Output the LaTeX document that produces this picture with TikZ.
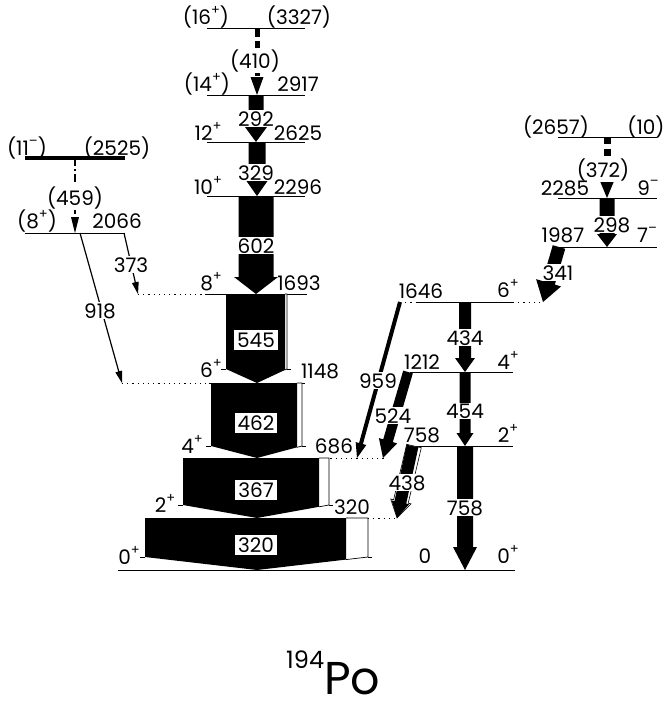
\documentclass[tikz,border=0pt]{standalone}
\usepackage{fontspec}
\setmainfont{Poppins}
\usetikzlibrary{calc}
\newcommand\lvsup[1]{\raisebox{0.48em}{\fontsize{13}{13}\selectfont #1}}
% filled gamma arrow: [style]{start}{end}{body width}{head width}{head length}
\newcommand\gamfill[6][fill=black]{%
  \coordinate (gH) at ($(#3)!#6!(#2)$);
  \path[#1] ($(#2)!#4*0.5!90:(#3)$) -- ($(gH)!#4*0.5!-90:(#2)$) -- ($(gH)!#5*0.5!-90:(#2)$) -- (#3) -- ($(gH)!#5*0.5!90:(#2)$) -- ($(gH)!#4*0.5!90:(#2)$) -- ($(#2)!#4*0.5!-90:(#3)$) -- cycle;}
% dashed gamma arrow: {dash style}{start}{end}{body width}{head width}{head length}
\newcommand\gamdash[6]{%
  \coordinate (gH) at ($(#3)!#6!(#2)$);
  \draw[#1, line width=#4] (#2) -- (gH);
  \fill ($(gH)!#5*0.5!-90:(#2)$) -- (#3) -- ($(gH)!#5*0.5!90:(#2)$) -- cycle;}
% big block: {xL}{xB}{xR}{ytop}{ycorner}{ytip}
\newcommand\blk[6]{%
  \pgfmathsetmacro\yB{#5+(#3-#2)/(#3-257)*(#6-#5)}
  \draw[line width=0.7pt, fill=white] (#2,#4) -- (#3,#4) -- (#3,#5) -- (#2,\yB);
  \fill (#1,#4) -- (#2,#4) -- (#2,\yB) -- (257,#6) -- (#1,#5) -- cycle;
  \draw[line width=0.7pt] (#1-5,#5) -- (#1,#5) (#3,#5) -- (#3+4,#5);}
\begin{document}
\begin{tikzpicture}[x=1pt,y=-1pt,
  lab/.style={font=\fontsize{20}{20}\selectfont, anchor=base, inner sep=1pt},
  glab/.style={lab, fill=white},
  blab/.style={lab, fill=white, inner xsep=3pt, inner ysep=2.5pt},
  lvl/.style={line width=0.9pt},
  dotl/.style={line width=1pt, dash pattern=on 1.2pt off 4pt}]
\useasboundingbox (0,0) rectangle (669,702);
% ---------- levels ----------
\draw[lvl] (207,28) -- (305,28);
\draw[lvl] (207,95) -- (305,95);
\draw[lvl] (207,142) -- (305,142);
\draw[lvl] (207,196) -- (305,196);
\draw[dotl] (138,294) -- (205,294); \draw[lvl] (205,294) -- (307,294);
\draw[dotl] (122,383) -- (209,383); \draw[lvl] (209,383) -- (305,383);
\draw[lvl] (183,458) -- (320,458); \draw[dotl] (320,458) -- (384,458);
\draw[lvl] (145,518) -- (368,518); \draw[dotl] (368,518) -- (397,518);
\draw[lvl] (118,570) -- (515,570);
\draw[line width=3.5pt] (25,158) -- (125,158);
\draw[lvl] (25,233) -- (125,233);
\draw[lvl] (558,137) -- (657,137);
\draw[lvl] (558,198) -- (657,198);
\draw[lvl] (560,247) -- (657,247);
\draw[dotl] (400,302) -- (417,302); \draw[lvl] (417,302) -- (513,302); \draw[dotl] (513,302) -- (543,302);
\draw[lvl] (410,372) -- (513,372);
\draw[lvl] (410,446) -- (513,446);
% ---------- coordinates of transitions ----------
\coordinate (g410a) at (257,28);  \coordinate (g410b) at (257,95);
\coordinate (g292a) at (256,95);  \coordinate (g292b) at (256,142);
\coordinate (g329a) at (257,142); \coordinate (g329b) at (257,196);
\coordinate (g602a) at (256,196); \coordinate (g602b) at (256,294);
\coordinate (g372a) at (607,137); \coordinate (g372b) at (607,198);
\coordinate (g298a) at (607,198); \coordinate (g298b) at (607,247);
\coordinate (g341a) at (559,247); \coordinate (g341b) at (543,302);
\coordinate (g434a) at (465,302); \coordinate (g434b) at (465,372);
\coordinate (g454a) at (465,372); \coordinate (g454b) at (465,446);
\coordinate (g758a) at (465,446); \coordinate (g758b) at (465,570);
\coordinate (g959a) at (400,302); \coordinate (g959b) at (357,458);
\coordinate (g524a) at (408,372); \coordinate (g524b) at (383,458);
\coordinate (g438a) at (414,446); \coordinate (g438b) at (397,518);
\coordinate (g438c) at (412.5,446);
\coordinate (g459a) at (75,158);  \coordinate (g459b) at (75,233);
\coordinate (g918a) at (80,233);  \coordinate (g918b) at (122,383);
\coordinate (g373a) at (124,233); \coordinate (g373b) at (138,294);
% ---------- transitions ----------
\gamdash{dash pattern=on 9pt off 4pt}{g410a}{g410b}{5pt}{13pt}{18pt}
\gamfill{g292a}{g292b}{15pt}{22pt}{15pt}
\gamfill{g329a}{g329b}{17pt}{28pt}{20pt}
\gamfill{g602a}{g602b}{35pt}{44pt}{17pt}
\blk{226}{285}{287}{294}{369}{383}
\blk{211}{297}{302}{383}{446}{458}
\blk{183}{319}{329}{458}{505}{518}
\blk{145}{346}{368}{518}{557}{570}
\gamdash{dash pattern=on 7pt off 5pt}{g372a}{g372b}{7pt}{15pt}{18pt}
\gamfill{g298a}{g298b}{15pt}{20pt}{13pt}
\gamfill{g341a}{g341b}{13pt}{26pt}{20pt}
\gamfill{g434a}{g434b}{12pt}{20pt}{14pt}
\gamfill{g454a}{g454b}{11pt}{17pt}{13pt}
\gamfill{g758a}{g758b}{16pt}{24pt}{23pt}
\gamfill{g959a}{g959b}{4pt}{11pt}{15pt}
\gamfill{g524a}{g524b}{10pt}{19pt}{18pt}
\gamfill[draw, fill=white, line width=0.6pt]{g438a}{g438b}{15pt}{21pt}{17pt}
\gamfill{g438c}{g438b}{12pt}{18pt}{16pt}
\gamdash{line width=1.2pt, dash pattern=on 8pt off 3pt on 2pt off 3pt}{g459a}{g459b}{1.2pt}{8pt}{16pt}
\gamfill{g918a}{g918b}{1.2pt}{7pt}{12pt}
\gamfill{g373a}{g373b}{1.2pt}{7pt}{12pt}
% ---------- labels ----------
\node[lab] (t1) at (206,24) {(16\lvsup{+})};
\node[lab] (t2) at (299,24) {(3327)};
\node[glab] (t3) at (255,68) {(410)};
\node[lab] (t4) at (207,91) {(14\lvsup{+})};
\node[lab] (t5) at (298,91) {2917};
\node[glab] (t6) at (256,126) {292};
\node[lab] (t7) at (208,140) {12\lvsup{+}};
\node[lab] (t8) at (298,140) {2625};
\node[glab] (t9) at (256,180) {329};
\node[lab] (t10) at (208,194) {10\lvsup{+}};
\node[lab] (t11) at (298,194) {2296};
\node[glab] (t12) at (256,253) {602};
\node[lab] (t13) at (211,290) {8\lvsup{+}};
\node[lab] (t14) at (299,290) {1693};
\node[blab] (t15) at (256,347) {545};
\node[lab] (t16) at (211,377) {6\lvsup{+}};
\node[lab] (t17) at (320,378) {1148};
\node[blab] (t18) at (256,430) {462};
\node[lab] (t19) at (192,453) {4\lvsup{+}};
\node[lab] (t20) at (334,453) {686};
\node[blab] (t21) at (256,497) {367};
\node[lab] (t22) at (165,512) {2\lvsup{+}};
\node[lab] (t23) at (352,514) {320};
\node[blab] (t24) at (256,552) {320};
\node[lab] (t25) at (129,564) {0\lvsup{+}};
\node[lab] (t26) at (425,563) {0};
\node[lab] (t27) at (508,563) {0\lvsup{+}};
\node[lab] (t28) at (27,155) {(11\lvsup{–})};
\node[lab] (t29) at (117,155) {(2525)};
\node[glab] (t30) at (75,205) {(459)};
\node[lab] (t31) at (37,228) {(8\lvsup{+})};
\node[lab] (t32) at (117,228) {2066};
\node[glab] (t33) at (131,272) {373};
\node[glab] (t34) at (100,318) {918};
\node[lab] (t35) at (556,134) {(2657)};
\node[lab] (t36) at (646,134) {(10)};
\node[glab] (t37) at (603,177) {(372)};
\node[lab] (t38) at (565,195) {2285};
\node[lab] (t39) at (648,195) {9\lvsup{–}};
\node[glab] (t40) at (612,232) {298};
\node[lab] (t41) at (563,242) {1987};
\node[lab] (t42) at (647,242) {7\lvsup{–}};
\node[glab] (t43) at (558,280) {341};
\node[lab] (t44) at (421,298) {1646};
\node[lab] (t45) at (508,297) {6\lvsup{+}};
\node[glab] (t46) at (465,345) {434};
\node[lab] (t47) at (422,369) {1212};
\node[lab] (t48) at (508,369) {4\lvsup{+}};
\node[glab] (t49) at (378,388) {959};
\node[glab] (t50) at (465,418) {454};
\node[glab] (t51) at (393,423) {524};
\node[lab] (t52) at (422,442) {758};
\node[lab] (t53) at (508,442) {2\lvsup{+}};
\node[glab] (t54) at (407,490) {438};
\node[glab] (t55) at (465,515) {758};
\node[anchor=base west, inner sep=0pt] (title) at (286,694)
  {\fontsize{24}{24}\selectfont\raisebox{26pt}{194}\fontsize{46}{46}\selectfont Po};
\end{tikzpicture}
\end{document}
